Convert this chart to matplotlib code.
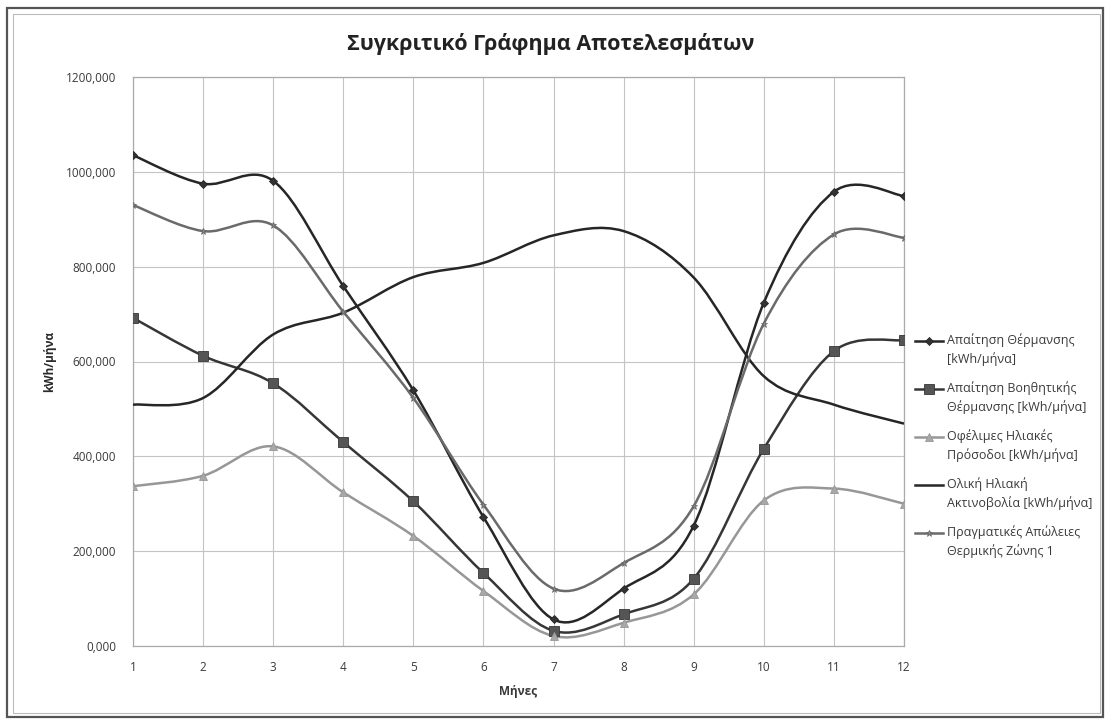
import numpy as np
import matplotlib
matplotlib.use("Agg")
import matplotlib.pyplot as plt
from matplotlib.path import Path
from matplotlib.patches import PathPatch, Rectangle
from matplotlib.lines import Line2D

plt.rcParams["font.family"] = ["Open Sans", "DejaVu Sans"]

# data (kWh/month per month)
months = np.arange(1, 13)
heating = [1035, 975, 981, 759, 539, 272, 56, 121, 254, 724, 958, 949]
aux_heating = [692, 612, 554, 430, 305, 154, 32, 67, 142, 416, 622, 645]
solar_gains = [337, 359, 421, 324, 232, 116, 21, 49, 109, 307, 332, 300]
solar_total = [509, 523, 657, 703, 778, 808, 866, 875, 777, 569, 509, 469]
real_losses = [930, 875, 887, 705, 523, 298, 121, 175, 295, 680, 868, 861]

labels = ['Απαίτηση Θέρμανσης\n[kWh/μήνα]',
          'Απαίτηση Βοηθητικής\nΘέρμανσης [kWh/μήνα]',
          'Οφέλιμες Ηλιακές\nΠρόσοδοι [kWh/μήνα]',
          'Ολική Ηλιακή\nΑκτινοβολία [kWh/μήνα]',
          'Πραγματικές Απώλειες\nΘερμικής Ζώνης 1']
yticks = [0, 200, 400, 600, 800, 1000, 1200]


def smooth_path(x, y):
    # excel-like smoothed line: catmull-rom turned into cubic bezier segments
    x = np.asarray(x, float)
    y = np.asarray(y, float)
    px = np.concatenate([[x[0]], x, [x[-1]]])
    py = np.concatenate([[y[0]], y, [y[-1]]])
    verts = [(x[0], y[0])]
    codes = [Path.MOVETO]
    for i in range(1, len(x)):
        c1 = (px[i] + (px[i + 1] - px[i - 1]) / 6, py[i] + (py[i + 1] - py[i - 1]) / 6)
        c2 = (px[i + 1] - (px[i + 2] - px[i]) / 6, py[i + 1] - (py[i + 2] - py[i]) / 6)
        verts += [c1, c2, (px[i + 1], py[i + 1])]
        codes += [Path.CURVE4] * 3
    return Path(verts, codes)


W, H = 1107, 721
fig = plt.figure(figsize=(W / 100, H / 100), dpi=100)
ax = fig.add_axes([133 / W, 1 - 646 / H, (904 - 133) / W, (646 - 77) / H])

# outer frame of the chart
fig.patches.append(Rectangle((7 / W, 4 / H), 1096 / W, 709 / H, transform=fig.transFigure,
                             fill=False, edgecolor='#555555', lw=1.6))
fig.patches.append(Rectangle((13 / W, 8 / H), 1087 / W, 699 / H, transform=fig.transFigure,
                             fill=False, edgecolor='#bbbbbb', lw=0.8))

series = [
    (heating, '#262626', 'D', 4.5, '#333333'),
    (aux_heating, '#363636', 's', 7, '#555555'),
    (solar_gains, '#979797', '^', 6, '#a8a8a8'),
    (solar_total, '#262626', '', 0, '#262626'),
    (real_losses, '#6a6a6a', '*', 5, '#8a8a8a'),
]

for i, (vals, col, mk, ms, mcol) in enumerate(series):
    ax.add_patch(PathPatch(smooth_path(months, vals), facecolor='none', edgecolor=col, lw=1.8, zorder=3))
    if mk:
        ax.plot(months, vals, linestyle='none', marker=mk, markersize=ms, color=mcol,
                markeredgecolor=col, markeredgewidth=0.6, zorder=4)
    # legend entry, marker level with the first text line (as excel does)
    ly = 1 - (341 + 48 * i) / H
    fig.add_artist(Line2D([915 / W, 943 / W], [ly, ly], color=col, lw=1.8))
    if mk:
        fig.add_artist(Line2D([929 / W], [ly], marker=mk, markersize=ms, color=mcol,
                              markeredgecolor=col, markeredgewidth=0.6))
    fig.text(947 / W, ly + 8 / H, labels[i], ha='left', va='top', fontsize=9,
             color='#3a3a3a', linespacing=1.45)

ax.set_xlim(1, 12)
ax.set_ylim(0, 1200)
ax.set_xticks(months)
ax.set_yticks(yticks)
ax.set_yticklabels([f"{v:.3f}".replace('.', ',') for v in yticks])
ax.grid(True, color='#c4c4c4', lw=0.8)
ax.set_axisbelow(True)
for s in ax.spines.values():
    s.set_color('#aaaaaa')
    s.set_linewidth(0.9)
ax.tick_params(axis='both', length=0, labelsize=8.5, colors='#3a3a3a')
ax.tick_params(axis='y', pad=12)
ax.tick_params(axis='x', pad=11)

ax.set_xlabel('Μήνες', fontsize=8.5, fontweight='bold', color='#3a3a3a', labelpad=8)
ax.set_ylabel('kWh/μήνα', fontsize=8.5, fontweight='bold', color='#2a2a2a', labelpad=7)

fig.text(551 / W, 1 - 44 / H, 'Συγκριτικό Γράφημα Αποτελεσμάτων', ha='center', va='center',
         fontsize=15.5, fontweight='bold', color='#222222')

fig.savefig('out.png', dpi=100)
